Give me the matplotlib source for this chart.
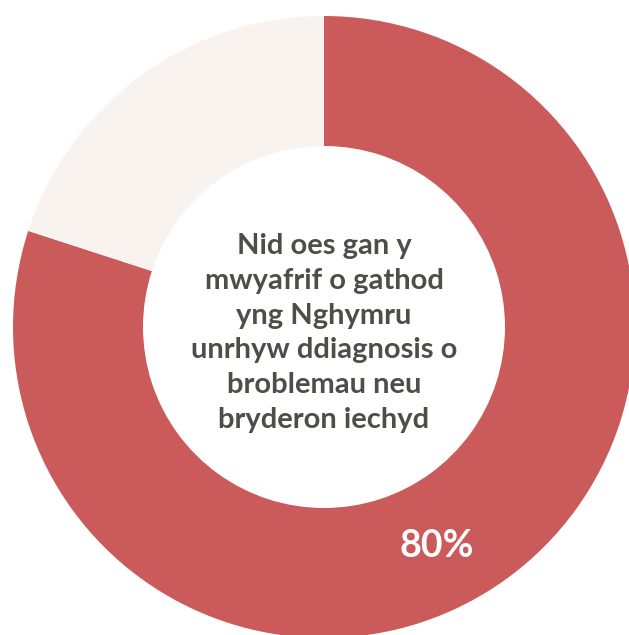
import matplotlib.pyplot as plt
import numpy as np

# data
labels = ['Dim diagnosis', 'Diagnosis']
shares = [80, 20]
colors = ['#CB5B5B', '#F8F3EF']
center_text = ("Nid oes gan y\nmwyafrif o gathod\nyng Nghymru\n"
               "unrhyw ddiagnosis o\nbroblemau neu\nbryderon iechyd")

W, H = 629, 635
fig = plt.figure(figsize=(W / 100, H / 100), dpi=100)
ax = fig.add_axes([0, 0, 1, 1])

cx, cy = 324, H - 327
r_out, r_in = 311, 181

ax.pie(shares, colors=colors, startangle=90, counterclock=False,
       radius=r_out, center=(cx, cy),
       wedgeprops=dict(width=r_out - r_in, linewidth=0))

ax.text(cx, cy - 6, center_text, ha='center', va='center',
        fontsize=21, color='#4D4D49', family='Lato', fontweight='bold',
        linespacing=1.42)

# percentage label in the ring
ang = np.deg2rad(-62.8)
rm = (r_out + r_in) / 2
ax.text(cx + rm * np.cos(ang), cy + rm * np.sin(ang), f"{shares[0]}%",
        ha='center', va='center', fontsize=27, color='white',
        family='Lato', fontweight='bold')

ax.set_xlim(0, W)
ax.set_ylim(0, H)
ax.set_aspect('equal')
ax.axis('off')

fig.savefig('out.png', dpi=100)
